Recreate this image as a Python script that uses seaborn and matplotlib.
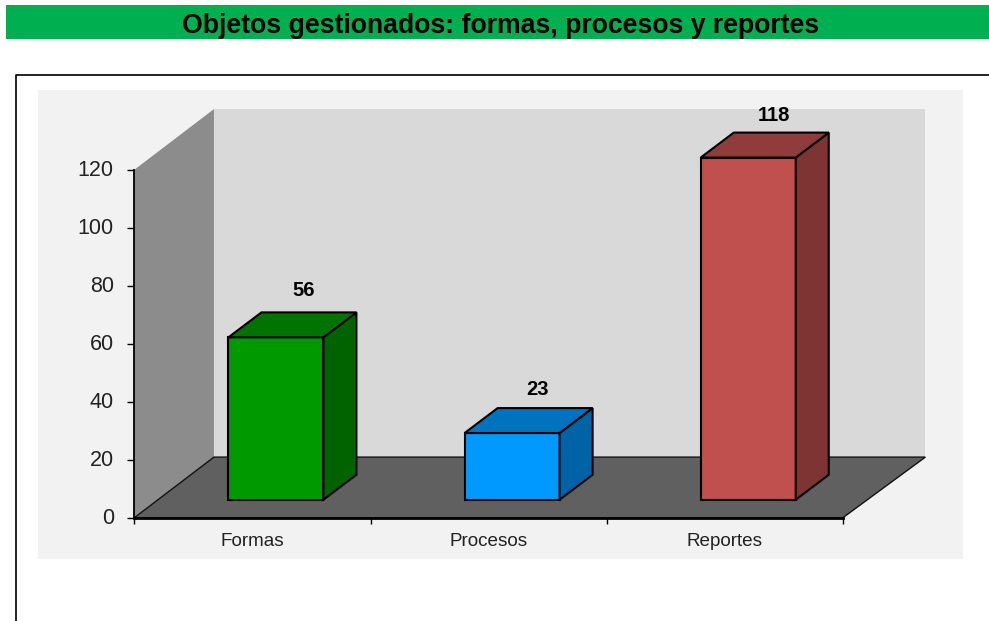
import matplotlib
matplotlib.use('Agg')
import matplotlib.pyplot as plt
import matplotlib.colors as mcolors
from matplotlib.patches import Rectangle
from matplotlib.transforms import ScaledTranslation
import pandas as pd
import seaborn as sns

# Chart values
categories = ['Formas', 'Procesos', 'Reportes']
values = [56, 23, 118]
y_ticks = [0, 20, 40, 60, 80, 100, 120]
title = 'Objetos gestionados: formas, procesos y reportes'

bar_colors = ['#009900', '#0099FF', '#C0504D']
# value label positions relative to the top of each bar, in points
label_offsets = [(20, 34), (18, 31), (18.7, 30.3)]

W, H = 989, 621

sns.set_theme(style='white')
plt.rcParams['font.family'] = ['Liberation Sans', 'DejaVu Sans']


def px_rect(x0, y0, x1, y1, **kw):
    # rectangle on the figure given in image pixels
    fig.add_artist(Rectangle((x0 / W, 1 - y1 / H), (x1 - x0) / W, (y1 - y0) / H,
                             transform=fig.transFigure, **kw))


fig = plt.figure(figsize=(W / 100, H / 100), dpi=100, facecolor='white')

# Header band, outer box and grey panel
px_rect(6, 5, 989, 39, facecolor='#00B050', edgecolor='none')
fig.text(501 / W, 1 - 26 / H, title, ha='center', va='center',
         fontsize=19.2, fontweight='bold', color='black')
fig.add_artist(plt.Line2D([16 / W, 16 / W, 1], [0, 1 - 75 / H, 1 - 75 / H],
                          color='black', lw=1.2, transform=fig.transFigure))
px_rect(38, 90, 963, 559, facecolor='#F2F2F2', edgecolor='none')

ax = fig.add_axes([134 / W, 1 - 518 / H, (843 - 134) / W, (518 - 170) / H])
ax.patch.set_visible(False)
ax.set_zorder(5)

df = pd.DataFrame({'categoria': categories, 'valor': values})

# depth of the fake 3D box, in data units
floor_dy = 21
back_left_dx, back_right_dx = 0.3385, 0.351
bar_dx, bar_dy = 0.14, 8.6
bar_bottom = 6.3

sns.barplot(data=df, x='categoria', y='valor', hue='categoria', palette=bar_colors,
            order=categories, hue_order=categories, legend=False, width=0.402,
            bottom=bar_bottom, edgecolor='black', linewidth=1.5, saturation=1,
            zorder=3, clip_on=False, ax=ax)

x0, x1 = -0.6008, 2.3992
ax.set_xlim(x0, x1)
ax.set_ylim(0, 120)

# Walls and floor
top = 120
bx0, bx1 = x0 + back_left_dx, x1 + back_right_dx
ax.fill([bx0, bx1, bx1, bx0],
        [floor_dy, floor_dy, top + floor_dy, top + floor_dy],
        color='#D9D9D9', lw=0, clip_on=False, zorder=1)
ax.fill([x0, bx0, bx0, x0],
        [0, floor_dy, top + floor_dy, top],
        color='#8C8C8C', lw=0, clip_on=False, zorder=1)
ax.fill([x0, x1, bx1, bx0],
        [0, 0, floor_dy, floor_dy],
        facecolor='#606060', edgecolor='#111111', lw=1, clip_on=False, zorder=2)

# Side and top faces built from the bars seaborn drew
bars = [p for p in ax.patches if isinstance(p, Rectangle)]
for patch, color, value, offset in zip(bars, bar_colors, values, label_offsets):
    px, py = patch.get_x(), patch.get_y()
    pw, ph = patch.get_width(), patch.get_height()
    rgb = mcolors.to_rgb(color)
    ax.fill([px + pw, px + pw + bar_dx, px + pw + bar_dx, px + pw],
            [py, py + bar_dy, py + ph + bar_dy, py + ph],
            facecolor=[c * 0.65 for c in rgb], edgecolor='black', lw=1.5,
            clip_on=False, zorder=4)
    ax.fill([px, px + bar_dx, px + pw + bar_dx, px + pw],
            [py + ph, py + ph + bar_dy, py + ph + bar_dy, py + ph],
            facecolor=[c * 0.75 for c in rgb], edgecolor='black', lw=1.5,
            clip_on=False, zorder=4)
    ax.annotate(str(value), (px + pw / 2, py + ph), xytext=offset,
                textcoords='offset points', ha='center', va='center',
                fontsize=14.5, fontweight='bold', color='black', zorder=5,
                annotation_clip=False)

# Axes: tick marks between categories, labels shifted left of the bars
sns.despine(ax=ax, top=True, right=True)
for side in ['left', 'bottom']:
    ax.spines[side].set_color('black')
    ax.spines[side].set_zorder(6)
ax.spines['left'].set_linewidth(1.3)
ax.spines['bottom'].set_linewidth(2)

ax.set_yticks(y_ticks)
ax.set_yticklabels([str(t) for t in y_ticks], fontsize=15.5, color='#222222')
ax.tick_params(axis='y', left=True, length=5, width=1, color='black', pad=9.5)
# tick labels sit a little above their marks in the reference
nudge = ScaledTranslation(0, 1.5 / 72, fig.dpi_scale_trans)
for label in ax.get_yticklabels():
    label.set_transform(label.get_transform() + nudge)

ax.set_xticks([-0.5987 + i for i in range(len(categories) + 1)])
ax.set_xticklabels([])
ax.tick_params(axis='x', which='major', bottom=True, length=4, width=1, color='black')
ax.set_xticks([i - 0.0985 for i in range(len(categories))], minor=True)
ax.set_xticklabels(categories, minor=True, fontsize=13.6, color='#222222')
ax.tick_params(axis='x', which='minor', bottom=False, length=0, pad=10.5)
ax.set_xlabel('')
ax.set_ylabel('')

fig.savefig('out.png', dpi=100)
